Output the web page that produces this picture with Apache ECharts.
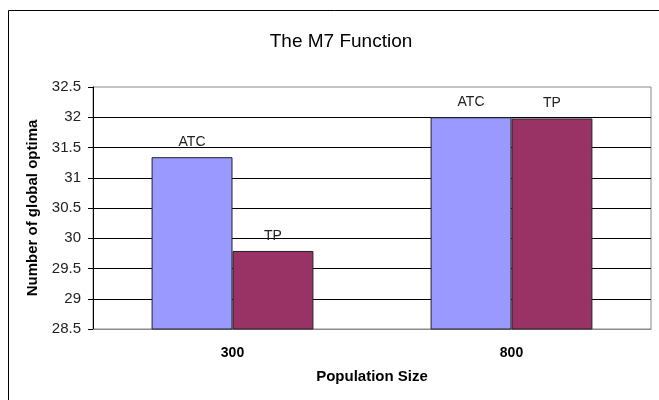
<!DOCTYPE html>
<html>
<head>
<meta charset="utf-8">
<script src="https://cdn.jsdelivr.net/npm/echarts@6/dist/echarts.min.js"></script>
<style>
  html, body { margin: 0; padding: 0; background: #fff; }
  #chart { width: 659px; height: 400px; }
</style>
</head>
<body>
<div id="chart"></div>
<script>
// Population sizes on the x axis
const categories = ['300', '800'];
// Number of global optima found by each method
const atcValues = [31.34, 32.0];
const tpValues = [29.79, 31.98];
const seriesNames = ['ATC', 'TP'];

const FONT = 'Liberation Sans, Arial, sans-serif';
const chart = echarts.init(document.getElementById('chart'), null, { renderer: 'canvas' });

const labelStyle = {
  show: true,
  position: 'top',
  distance: 8,
  fontFamily: FONT,
  fontSize: 14,
  color: '#222',
  formatter: p => p.seriesName
};

chart.setOption({
  backgroundColor: '#fff',
  animation: false,
  graphic: [{
    type: 'rect',
    shape: { x: 8.5, y: 10.5, width: 700, height: 500 },
    style: { fill: 'none', stroke: '#000', lineWidth: 1 },
    silent: true,
    z: -1
  }],
  title: {
    text: 'The M7 Function',
    left: 336,
    top: 27,
    textAlign: 'center',
    textStyle: { fontFamily: FONT, fontSize: 19, fontWeight: 'normal', color: '#000' }
  },
  grid: {
    left: 93, right: 8, top: 87, bottom: 71,
    show: true,
    borderColor: '#8a8a8a',
    borderWidth: 1,
    backgroundColor: 'transparent'
  },
  xAxis: {
    type: 'category',
    data: categories,
    name: 'Population Size',
    nameLocation: 'middle',
    nameGap: 40,
    nameTextStyle: { fontFamily: FONT, fontSize: 15, fontWeight: 'bold', color: '#000' },
    axisLine: { show: true, lineStyle: { color: '#8a8a8a', width: 1 } },
    axisTick: { show: false },
    axisLabel: { margin: 17, fontFamily: FONT, fontSize: 14, fontWeight: 'bold', color: '#000' }
  },
  yAxis: {
    type: 'value',
    min: 28.5,
    max: 32.5,
    interval: 0.5,
    name: 'Number of global optima',
    nameLocation: 'middle',
    nameGap: 53,
    nameTextStyle: { fontFamily: FONT, fontSize: 15, fontWeight: 'bold', color: '#000' },
    axisLine: { show: true, lineStyle: { color: '#000', width: 1 } },
    axisTick: { show: true, inside: false, length: 5, lineStyle: { color: '#000' } },
    axisLabel: { margin: 12, fontFamily: FONT, fontSize: 15, color: '#222' },
    splitLine: {
      show: true,
      showMinLine: false,
      showMaxLine: false,
      lineStyle: { color: '#000', width: 1 }
    }
  },
  series: [
    {
      name: seriesNames[0],
      type: 'bar',
      data: atcValues,
      barGap: '0%',
      barCategoryGap: '42%',
      itemStyle: { color: '#9999ff', borderColor: '#222', borderWidth: 1 },
      label: labelStyle
    },
    {
      name: seriesNames[1],
      type: 'bar',
      data: tpValues,
      barGap: '0%',
      barCategoryGap: '42%',
      itemStyle: { color: '#993366', borderColor: '#222', borderWidth: 1 },
      label: labelStyle
    }
  ]
});
</script>
</body>
</html>
